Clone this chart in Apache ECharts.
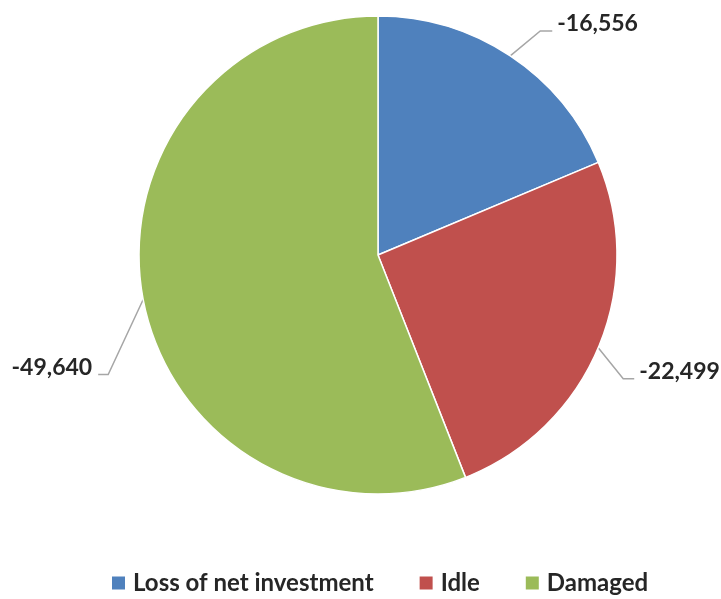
<!DOCTYPE html>
<html><head><meta charset="utf-8">
<script src="https://cdn.jsdelivr.net/npm/echarts@6/dist/echarts.min.js"></script>
<style>html,body{margin:0;padding:0;background:#fff}#c{width:721px;height:599px}</style>
</head><body><div id="c"></div>
<script>
var categories = ['Loss of net investment', 'Idle', 'Damaged'];
var values = [-16556, -22499, -49640];
var colors = ['#4F81BD', '#C0504D', '#9BBB59'];
// leader-line shape: bend offset from slice edge, then horizontal run
var leaderBend = [[30, -25], [25, 31], [-35, 75]];
var leaderRun = [12, 11, -10];

var chart = echarts.init(document.getElementById('c'));
var fmt = function (v) { return '-' + Math.abs(v).toLocaleString('en-US'); };
var FONT = 'Lato';
chart.setOption({
  animation: false,
  legend: {
    left: 110, top: 571, padding: 0,
    itemWidth: 15, itemHeight: 15, itemGap: 44, icon: 'rect',
    textStyle: { fontFamily: FONT, fontWeight: 'bold', fontSize: 24, color: '#262626', padding: [0, 0, 0, 2] },
    data: categories
  },
  series: [{
    type: 'pie',
    center: [378, 255],
    radius: 239,
    startAngle: 90,
    clockwise: true,
    label: {
      formatter: function (p) { return fmt(values[p.dataIndex]); },
      fontFamily: FONT, fontWeight: 'bold', fontSize: 23, color: '#262626',
      width: 120, overflow: 'none'
    },
    labelLine: { length: 20, length2: 10, lineStyle: { color: '#A6A6A6', width: 1.5 } },
    labelLayout: function (p) {
      var i = p.dataIndex;
      var e = p.labelLinePoints[0];
      var b = [e[0] + leaderBend[i][0], e[1] + leaderBend[i][1]];
      var r = leaderRun[i];
      var end = [b[0] + r, b[1]];
      var right = r > 0;
      return {
        x: end[0] + (right ? 5 : -6),
        y: end[1] - 7,
        align: right ? 'left' : 'right',
        verticalAlign: 'middle',
        labelLinePoints: [e, b, end]
      };
    },
    itemStyle: { borderColor: '#fff', borderWidth: 1.5 },
    data: categories.map(function (c, i) {
      return { name: c, value: Math.abs(values[i]), itemStyle: { color: colors[i] } };
    })
  }]
});
</script></body></html>
